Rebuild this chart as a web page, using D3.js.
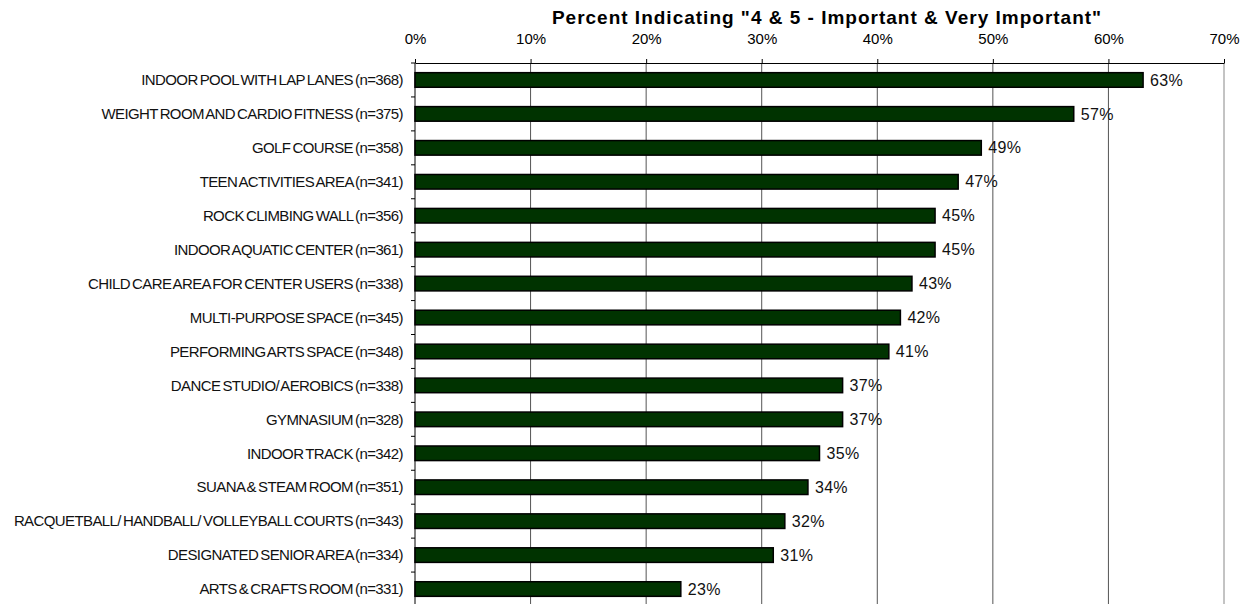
<!DOCTYPE html>
<html>
<head>
<meta charset="utf-8">
<script src="https://cdn.jsdelivr.net/npm/d3@7"></script>
<style>
  body { margin: 0; background: #fff; }
  svg { font-family: "Liberation Sans", Arial, sans-serif; }
</style>
</head>
<body>
<div id="viz"></div>
<script>
var categories = [
  "INDOOR POOL WITH LAP LANES (n=368)",
  "WEIGHT ROOM AND CARDIO FITNESS (n=375)",
  "GOLF COURSE (n=358)",
  "TEEN ACTIVITIES AREA (n=341)",
  "ROCK CLIMBING WALL (n=356)",
  "INDOOR AQUATIC CENTER (n=361)",
  "CHILD CARE AREA FOR CENTER USERS (n=338)",
  "MULTI-PURPOSE SPACE (n=345)",
  "PERFORMING ARTS SPACE (n=348)",
  "DANCE STUDIO/ AEROBICS (n=338)",
  "GYMNASIUM (n=328)",
  "INDOOR TRACK (n=342)",
  "SUANA & STEAM ROOM (n=351)",
  "RACQUETBALL/ HANDBALL/ VOLLEYBALL COURTS (n=343)",
  "DESIGNATED SENIOR AREA (n=334)",
  "ARTS & CRAFTS ROOM (n=331)"
];
var values = [63, 57, 49, 47, 45, 45, 43, 42, 41, 37, 37, 35, 34, 32, 31, 23];
var xTicks = [0, 10, 20, 30, 40, 50, 60, 70];
var title = 'Percent Indicating "4 & 5 - Important & Very Important"';

var W = 1255, H = 604;
var margin = {top: 63, right: 31, bottom: -2, left: 415};
var width = W - margin.left - margin.right,
    height = H - margin.top - margin.bottom;

var svg = d3.select("#viz").append("svg")
    .attr("width", W).attr("height", H);
var g = svg.append("g")
    .attr("transform", "translate(" + margin.left + "," + margin.top + ")");

var x = d3.scaleLinear().domain([0, 70]).range([0, width]);
var y = d3.scaleBand().domain(categories).range([0, height]).paddingInner(0.57).paddingOuter(0.285);

// gridlines
g.selectAll(".grid").data(xTicks.slice(1)).enter().append("line")
  .attr("x1", d => x(d)).attr("x2", d => x(d))
  .attr("y1", 0).attr("y2", height)
  .attr("stroke", d => d === 70 ? "#888" : "#555").attr("stroke-width", 1);

// top axis
var xAxis = g.append("g")
  .call(d3.axisTop(x).tickValues(xTicks).tickFormat(d => d + "%").tickSize(4).tickSizeOuter(0));
xAxis.select(".domain").attr("stroke", "#000");
xAxis.selectAll("text").attr("font-size", 15).attr("fill", "#000").attr("y", -19).attr("dy", 0);

// bars
g.selectAll(".bar").data(values).enter().append("rect")
  .attr("x", 0)
  .attr("y", (d, i) => y(categories[i]))
  .attr("width", d => x(d))
  .attr("height", y.bandwidth())
  .attr("fill", "#003300")
  .attr("stroke", "#000").attr("stroke-width", 1.5);

// value labels
g.selectAll(".val").data(values).enter().append("text")
  .attr("x", d => x(d) + 7)
  .attr("y", (d, i) => y(categories[i]) + y.bandwidth() / 2)
  .attr("dy", "0.35em")
  .attr("font-size", 16)
  .attr("letter-spacing", "0.3px")
  .attr("fill", "#111")
  .text(d => d + "%");

// left axis
var step = y.step();
var yAxis = g.append("g");
yAxis.append("line").attr("x1", 0).attr("x2", 0).attr("y1", 0).attr("y2", height).attr("stroke", "#000");
yAxis.selectAll(".tk").data(d3.range(categories.length + 1)).enter().append("line")
  .attr("x1", -4).attr("x2", 0)
  .attr("y1", i => i * step).attr("y2", i => i * step)
  .attr("stroke", "#000");
yAxis.selectAll(".lbl").data(categories).enter().append("text")
  .attr("x", -12)
  .attr("y", d => y(d) + y.bandwidth() / 2)
  .attr("dy", "0.35em")
  .attr("text-anchor", "end")
  .attr("font-size", 15)
  .attr("letter-spacing", "-0.6px")
  .attr("word-spacing", "-1.5px")
  .attr("fill", "#111")
  .text(d => d);

// title
svg.append("text")
  .attr("x", 827).attr("y", 24)
  .attr("text-anchor", "middle")
  .attr("font-size", 19).attr("font-weight", "bold")
  .attr("letter-spacing", "1px")
  .text(title);
</script>
</body>
</html>
